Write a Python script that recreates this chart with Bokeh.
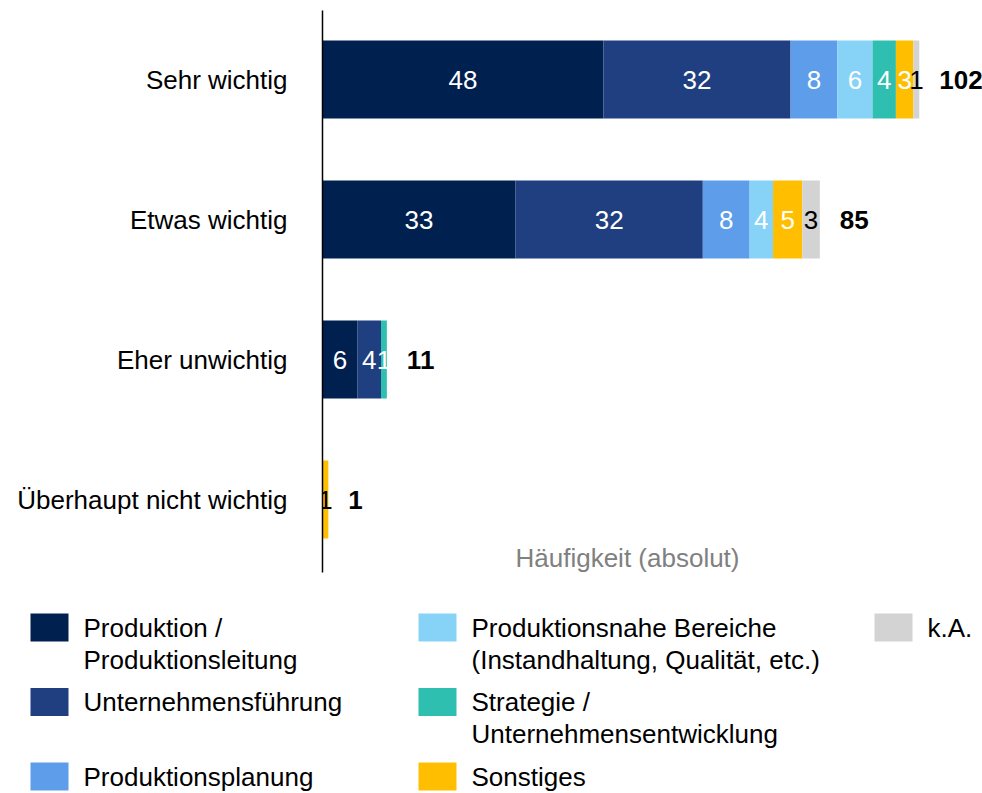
from bokeh.plotting import figure
from bokeh.models import ColumnDataSource, Range1d, FixedTicker, Label
from bokeh.layouts import column
from bokeh.core.properties import value
from bokeh.embed import file_html
from bokeh.resources import INLINE

FONT = "Liberation Sans"
FS = "26px"

# ---- data ----
categories = ["Sehr wichtig", "Etwas wichtig", "Eher unwichtig", "Überhaupt nicht wichtig"]
series_names = [
    "Produktion /\nProduktionsleitung",
    "Unternehmensführung",
    "Produktionsplanung",
    "Produktionsnahe Bereiche\n(Instandhaltung, Qualität, etc.)",
    "Strategie /\nUnternehmensentwicklung",
    "Sonstiges",
    "k.A.",
]
produktion = [48, 33, 6, 0]
unternehmensfuehrung = [32, 32, 4, 0]
produktionsplanung = [8, 8, 0, 0]
produktionsnahe = [6, 4, 0, 0]
strategie = [4, 0, 1, 0]
sonstiges = [3, 5, 0, 1]
ka = [1, 3, 0, 0]
axis_title = "Häufigkeit (absolut)"

series_values = [produktion, unternehmensfuehrung, produktionsplanung,
                 produktionsnahe, strategie, sonstiges, ka]
colors = ["#002050", "#203F80", "#5E9DE9", "#87D3F8", "#2EBFB0", "#FFBF00", "#D3D3D3"]
keys = ["s%d" % i for i in range(len(series_values))]

# ---- layout constants (pixels) ----
W, H1, H2 = 982, 585, 208
FL, FR, FT, FB = 322, 982, 10, 572
X0, X1 = 0, 112.8
Y0, Y1 = -0.521, 3.493

n = len(categories)
ypos = list(range(n))[::-1]
data = {"y": ypos}
for k, v in zip(keys, series_values):
    data[k] = v
source = ColumnDataSource(data)

p = figure(width=W, height=H1, x_range=Range1d(X0, X1), y_range=Range1d(Y0, Y1),
           output_backend="svg", toolbar_location=None,
           min_border_left=FL, min_border_right=W - FR, min_border_top=FT, min_border_bottom=H1 - FB)
p.frame_align = False
p.hbar_stack(keys, y="y", height=0.557, color=colors, line_color=None, source=source)

# segment labels
lx, ly, lt, lc = [], [], [], []
for ci in range(n):
    start = 0
    total = sum(s[ci] for s in series_values)
    for si, vals in enumerate(series_values):
        v = vals[ci]
        if v > 0:
            lx.append(start + v / 2)
            ly.append(ypos[ci])
            lt.append(str(v))
            dark_text = (si == len(series_values) - 1) or (total == v and v < 2)
            lc.append("black" if dark_text else "white")
        start += v
p.text(x="x", y="y", text="t", text_color="c", source=ColumnDataSource(dict(x=lx, y=ly, t=lt, c=lc)),
       text_align="center", text_baseline="middle", text_font=value(FONT), text_font_size=FS)

# totals
totals = [sum(s[ci] for s in series_values) for ci in range(n)]
p.text(x=totals, y=ypos, text=[str(t) for t in totals], x_offset=20,
       text_align="left", text_baseline="middle", text_font=value(FONT),
       text_font_size=FS, text_font_style="bold", text_color="black")

p.add_layout(Label(x=X0 + (627 - FL) * (X1 - X0) / (FR - FL), y=Y1 - (557 - FT) * (Y1 - Y0) / (FB - FT),
                   text=axis_title, text_align="center", text_baseline="middle",
                   text_font=FONT, text_font_size=FS, text_color="#808080"))

p.xaxis.visible = False
p.grid.visible = False
p.outline_line_color = None
p.yaxis.ticker = FixedTicker(ticks=ypos)
p.yaxis.major_label_overrides = {y: c for y, c in zip(ypos, categories)}
p.yaxis.major_tick_line_color = None
p.yaxis.minor_tick_line_color = None
p.yaxis.axis_line_color = "black"
p.yaxis.axis_line_width = 1.5
p.yaxis.major_label_text_font = FONT
p.yaxis.major_label_text_font_size = FS
p.yaxis.major_label_text_color = "black"
p.yaxis.major_label_standoff = 29

# ---- legend figure (pixel coordinates of the page) ----
lg = figure(width=W, height=H2, x_range=Range1d(0, W), y_range=Range1d(H1 + H2, H1),
            output_backend="svg", toolbar_location=None, min_border=0,
            min_border_left=0, min_border_right=0, min_border_top=0, min_border_bottom=0)
lg.frame_align = False
lg.axis.visible = False
lg.grid.visible = False
lg.outline_line_color = None
col_x = [30, 418, 874]
row_y0, row_pitch, line_pitch = 627, 74.5, 32
sq_x, sq_y, sq_c, tx, ty, tt = [], [], [], [], [], []
for i, (name, c) in enumerate(zip(series_names, colors)):
    col, row = i // 3, i % 3
    x0 = col_x[col]
    yc = row_y0 + row * row_pitch
    sq_x.append(x0 + 19)
    sq_y.append(yc)
    sq_c.append(c)
    for li, line in enumerate(name.split("\n")):
        tx.append(x0 + 53)
        ty.append(yc + li * line_pitch)
        tt.append(line)
lg.rect(x=sq_x, y=sq_y, width=38, height=28, fill_color=sq_c, line_color=None)
lg.text(x=tx, y=ty, text=tt, text_align="left", text_baseline="middle",
        text_font=value(FONT), text_font_size=FS, text_color="black")

layout = column(p, lg, spacing=0)
open("out.html", "w").write(file_html(layout, INLINE))
